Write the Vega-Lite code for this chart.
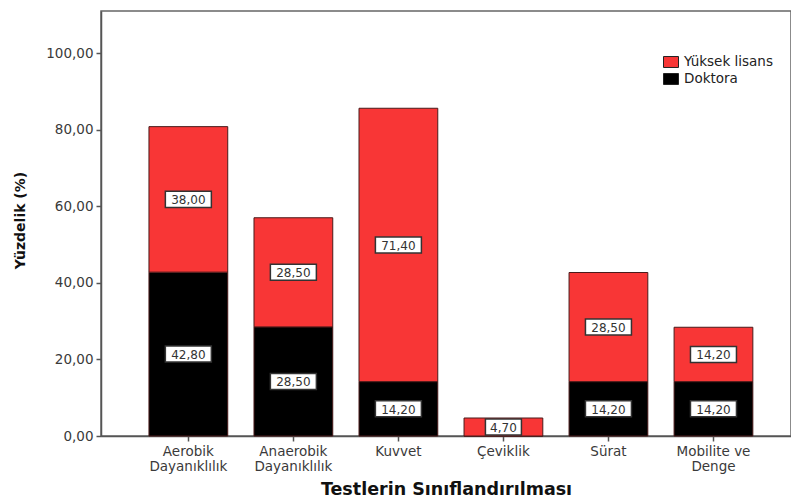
{
  "$schema": "https://vega.github.io/schema/vega-lite/v6.json",
  "width": 690,
  "height": 425,
  "autosize": {"type": "none"},
  "padding": {"left": 101, "top": 11, "right": 0, "bottom": 64},
  "background": "white",
  "config": {
    "font": "DejaVu Sans",
    "view": {"stroke": "#666666", "strokeWidth": 1.5},
    "axis": {
      "domainColor": "#555555",
      "domainWidth": 1.5,
      "tickColor": "#555555",
      "tickWidth": 1.5,
      "tickSize": 5,
      "labelFont": "DejaVu Sans",
      "labelFontSize": 13.5,
      "labelColor": "#3a3a3a",
      "titleFont": "DejaVu Sans",
      "titleColor": "#111111",
      "grid": false
    }
  },
  "data": {
    "values": [
      {"test": "Aerobik Dayanıklılık", "group": "Doktora", "value": 42.8},
      {"test": "Aerobik Dayanıklılık", "group": "Yüksek lisans", "value": 38.0},
      {"test": "Anaerobik Dayanıklılık", "group": "Doktora", "value": 28.5},
      {"test": "Anaerobik Dayanıklılık", "group": "Yüksek lisans", "value": 28.5},
      {"test": "Kuvvet", "group": "Doktora", "value": 14.2},
      {"test": "Kuvvet", "group": "Yüksek lisans", "value": 71.4},
      {"test": "Çeviklik", "group": "Doktora", "value": 0},
      {"test": "Çeviklik", "group": "Yüksek lisans", "value": 4.7},
      {"test": "Sürat", "group": "Doktora", "value": 14.2},
      {"test": "Sürat", "group": "Yüksek lisans", "value": 28.5},
      {"test": "Mobilite ve Denge", "group": "Doktora", "value": 14.2},
      {"test": "Mobilite ve Denge", "group": "Yüksek lisans", "value": 14.2}
    ]
  },
  "encoding": {
    "x": {
      "field": "test",
      "type": "nominal",
      "sort": null,
      "scale": {"paddingInner": 0.25, "paddingOuter": 0.41, "align": 0.557},
      "axis": {
        "title": "Testlerin Sınıflandırılması",
        "titleFontSize": 17.5,
        "titleFontWeight": "bold",
        "titleBaseline": "middle",
        "titleY": 53,
        "labelAngle": 0,
        "labelPadding": 3,
        "labelLineHeight": 15,
        "labelExpr": "datum.label == 'Mobilite ve Denge' ? ['Mobilite ve', 'Denge'] : split(datum.label, ' ')"
      }
    }
  },
  "layer": [
    {
      "mark": {"type": "bar", "stroke": "#4a1a1a", "strokeWidth": 1},
      "encoding": {
        "y": {
          "field": "value",
          "type": "quantitative",
          "stack": "zero",
          "scale": {"domain": [0, 111], "nice": false},
          "axis": {
            "title": "Yüzdelik (%)",
            "titleFontSize": 14,
            "titleFontWeight": "bold",
            "titleBaseline": "middle",
            "titleX": -81,
            "titleY": 209,
            "values": [0, 20, 40, 60, 80, 100],
            "labelPadding": 3,
            "labelExpr": "replace(format(datum.value, '.2f'), '.', ',')"
          }
        },
        "color": {
          "field": "group",
          "type": "nominal",
          "scale": {"domain": ["Yüksek lisans", "Doktora"], "range": ["#f83636", "#000000"]},
          "legend": {
            "title": null,
            "orient": "none",
            "legendX": 562,
            "legendY": 43,
            "padding": 0,
            "symbolType": "M-1,-0.73H1V0.73H-1Z",
            "symbolSize": 225,
            "symbolStrokeColor": "#222222",
            "symbolStrokeWidth": 1,
            "labelFont": "DejaVu Sans",
            "labelFontSize": 13.5,
            "labelColor": "#222222",
            "labelOffset": 5,
            "rowPadding": 1
          }
        },
        "order": {"field": "group", "sort": "ascending"}
      }
    },
    {
      "transform": [
        {"stack": "value", "groupby": ["test"], "sort": [{"field": "group", "order": "ascending"}], "as": ["v0", "v1"]},
        {"calculate": "(datum.v0 + datum.v1) / 2", "as": "mid"},
        {"calculate": "replace(format(datum.value, '.2f'), '.', ',')", "as": "label"},
        {"filter": "datum.value > 0"}
      ],
      "layer": [
        {
          "mark": {"type": "point", "filled": true, "fill": "white", "stroke": "#333333", "strokeWidth": 1.5, "opacity": 1},
          "encoding": {
            "y": {"field": "mid", "type": "quantitative"},
            "shape": {"condition": {"test": "datum.value < 10", "value": "M-1,-0.45H1V0.45H-1Z"}, "value": "M-1,-0.35H1V0.35H-1Z"},
            "size": {"condition": {"test": "datum.value < 10", "value": 1296}, "value": 2116}
          }
        },
        {
          "mark": {"type": "text", "fontSize": 12, "font": "DejaVu Sans", "color": "#333333", "baseline": "middle", "dy": 1},
          "encoding": {
            "y": {"field": "mid", "type": "quantitative"},
            "text": {"field": "label"}
          }
        }
      ]
    }
  ]
}
